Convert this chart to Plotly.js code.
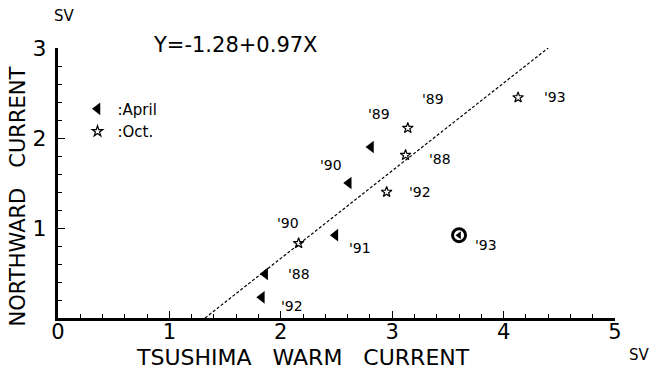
<!DOCTYPE html>
<html>
<head>
<meta charset="utf-8">
<script src="https://cdn.plot.ly/plotly-3.0.1.min.js"></script>
<style>html,body{margin:0;padding:0;background:#fff;}#chart{width:653px;height:369px;}</style>
</head>
<body>
<div id="chart"></div>
<script>
// ---- data ----
var aprilX = [1.83, 1.86, 2.49, 2.61, 2.81];
var aprilY = [0.23, 0.49, 0.92, 1.50, 1.90];
var aprilYear = ["'92", "'88", "'91", "'90", "'89"];

var octX = [2.16, 2.95, 3.12, 3.14, 4.13];
var octY = [0.83, 1.40, 1.81, 2.11, 2.45];
var octYear = ["'90", "'92", "'88", "'89", "'93"];

var specialX = [3.60];
var specialY = [0.92];
var specialYear = ["'93"];

var fitX = [1.32, 4.40];
var fitY = [0.00, 3.00];
var fitLabel = "Y=-1.28+0.97X";

var xTickVals = [0, 1, 2, 3, 4, 5];
var yTickVals = [1, 2, 3];

var xTitle = "TSUSHIMA\u00a0\u00a0\u00a0WARM\u00a0\u00a0\u00a0CURRENT";
var yTitle = "NORTHWARD\u00a0\u00a0\u00a0CURRENT";
var unitLabel = "SV";

// ---- label offsets in pixels (style, not data) ----
var aprilOff = [[30, -9], [34, 0], [25, -13], [-18, 18], [8, 33]];
var octOff = [[-11, 20], [33, 0], [34, -4], [25, 29], [37, 1]];
var specialOff = [[27, -10]];

var FONT = "DejaVu Sans, Arial, sans-serif";

var traces = [
  {x: fitX, y: fitY, mode: 'lines', type: 'scatter', showlegend: false,
   line: {color: '#000', width: 1.2, dash: '3px,2px'}, hoverinfo: 'skip'},
  {x: aprilX, y: aprilY, mode: 'markers', type: 'scatter', name: ':April',
   marker: {symbol: 'triangle-left', size: 11, color: '#000'}},
  {x: octX, y: octY, mode: 'markers', type: 'scatter', name: ':Oct.',
   marker: {symbol: 'star-open', size: 8, color: '#000', line: {width: 1.2, color: '#000'}}},
  {x: specialX, y: specialY, mode: 'markers', type: 'scatter', showlegend: false,
   marker: {symbol: 'circle-open', size: 13, color: '#000', line: {width: 3, color: '#000'}}},
  {x: specialX, y: specialY, mode: 'markers', type: 'scatter', showlegend: false,
   marker: {symbol: 'triangle-left', size: 7, color: '#000'}}
];

var annotations = [];
function addLabels(xs, ys, txt, off) {
  for (var i = 0; i < xs.length; i++) {
    annotations.push({x: xs[i], y: ys[i], xref: 'x', yref: 'y', text: txt[i],
      showarrow: false, xshift: off[i][0], yshift: off[i][1],
      xanchor: 'center', yanchor: 'middle',
      font: {family: FONT, size: 14, color: '#000'}});
  }
}
addLabels(aprilX, aprilY, aprilYear, aprilOff);
addLabels(octX, octY, octYear, octOff);
addLabels(specialX, specialY, specialYear, specialOff);

annotations.push({x: 0.318, y: 1.01, xref: 'paper', yref: 'paper', text: fitLabel, showarrow: false,
  xanchor: 'center', yanchor: 'middle',
  font: {family: FONT, size: 21, color: '#000'}});
annotations.push({x: 0.0, y: 1.0, xref: 'paper', yref: 'paper', text: unitLabel, showarrow: false,
  xanchor: 'left', yanchor: 'bottom', xshift: -6, yshift: 21,
  font: {family: FONT, size: 15, color: '#000'}});
annotations.push({x: 1.0, y: 0.0, xref: 'paper', yref: 'paper', text: unitLabel, showarrow: false,
  xanchor: 'left', yanchor: 'top', xshift: 12, yshift: -26,
  font: {family: FONT, size: 15, color: '#000'}});
annotations.push({x: 0.44, y: -0.146, xref: 'paper', yref: 'paper', text: xTitle, showarrow: false,
  xanchor: 'center', yanchor: 'middle',
  font: {family: FONT, size: 22, color: '#000'}});
annotations.push({x: -0.072, y: 0.45, xref: 'paper', yref: 'paper', text: yTitle, showarrow: false,
  xanchor: 'center', yanchor: 'middle',
  textangle: -90, font: {family: FONT, size: 21, color: '#000'}});

var layout = {
  width: 653, height: 369,
  margin: {l: 58, r: 38, t: 48, b: 51},
  paper_bgcolor: '#fff', plot_bgcolor: '#fff',
  font: {family: FONT, color: '#000'},
  showlegend: true,
  legend: {x: 0.035, y: 0.835, xanchor: 'left', yanchor: 'top', bgcolor: 'rgba(0,0,0,0)',
    font: {family: FONT, size: 15, color: '#000'}, tracegroupgap: 0, itemsizing: 'trace'},
  xaxis: {range: [0, 5], tickvals: xTickVals, showgrid: false, zeroline: false,
    showline: true, linewidth: 3, linecolor: '#000', mirror: false,
    ticks: 'inside', ticklen: 7, tickwidth: 1, tickcolor: '#000',
    minor: {dtick: 0.2, ticks: 'inside', ticklen: 4, tickwidth: 1, tickcolor: '#000', showgrid: false},
    tickfont: {family: FONT, size: 21, color: '#000'},
    ticklabelstandoff: -7
  },
  yaxis: {range: [0, 3], tickvals: yTickVals, showgrid: false, zeroline: false,
    showline: true, linewidth: 3, linecolor: '#000', mirror: false,
    ticks: 'inside', ticklen: 7, tickwidth: 1, tickcolor: '#000',
    minor: {dtick: 0.2, ticks: 'inside', ticklen: 4, tickwidth: 1, tickcolor: '#000', showgrid: false},
    tickfont: {family: FONT, size: 22, color: '#000'},
    ticklabelstandoff: 4
  },
  annotations: annotations
};

Plotly.newPlot('chart', traces, layout, {staticPlot: true, displayModeBar: false});
</script>
</body>
</html>
